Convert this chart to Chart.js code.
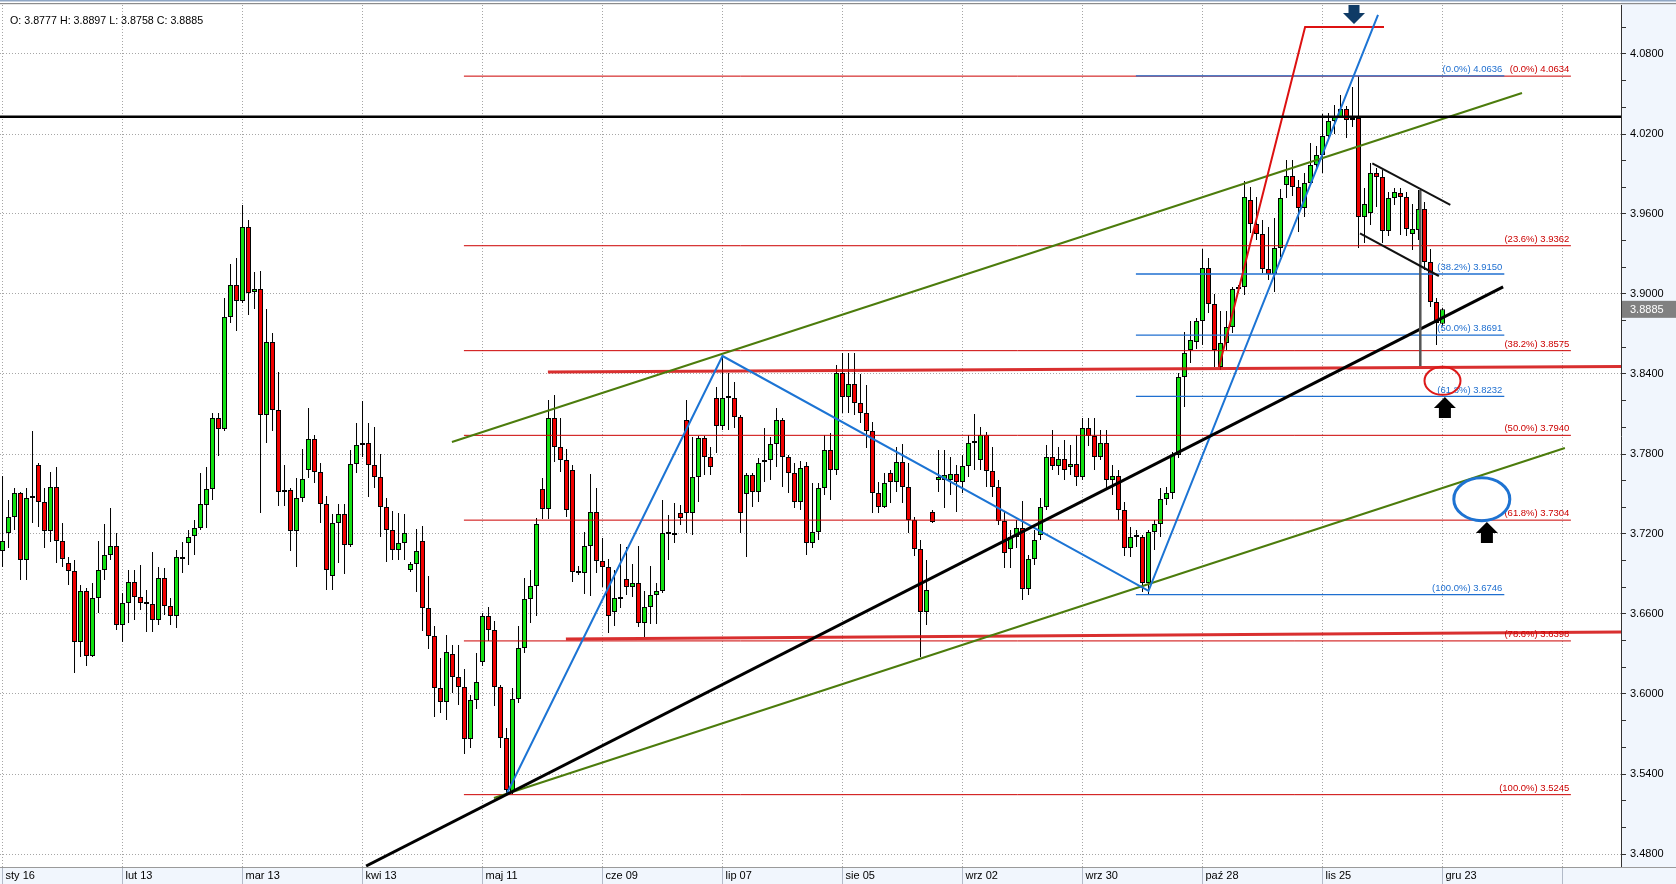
<!DOCTYPE html>
<html>
<head>
<meta charset="utf-8">
<title>USD/PLN D1</title>
<script src="https://cdn.jsdelivr.net/npm/chart.js"></script>
<style>
  html, body { margin: 0; padding: 0; background: #fff; }
  #wrap { position: relative; width: 1676px; height: 884px; }
  #chart { display: block; }
  #ohlc { position: absolute; left: 10px; top: 14px; font: 10.7px "Liberation Sans", Arial, sans-serif; color: #000; white-space: pre; }
</style>
</head>
<body>
<div id="wrap">
  <canvas id="chart" width="1676" height="884"></canvas>
  <div id="ohlc"></div>
</div>
<script>
// daily candles, index 0 = "sty 16"; every date label sits 20 bars apart
const dateLabels = ['sty 16', 'lut 13', 'mar 13', 'kwi 13', 'maj 11', 'cze 09', 'lip 07', 'sie 05', 'wrz 02', 'wrz 30', 'paź 28', 'lis 25', 'gru 23', ''];
const dateTickIdx = [0, 20, 40, 60, 80, 100, 120, 140, 160, 180, 200, 220, 240, 260];

const priceTicks = [3.48, 3.50, 3.52, 3.54, 3.56, 3.58, 3.60, 3.62, 3.64, 3.66, 3.68, 3.70, 3.72, 3.74, 3.76, 3.78,
  3.80, 3.82, 3.84, 3.86, 3.88, 3.90, 3.92, 3.94, 3.96, 3.98, 4.00, 4.02, 4.04, 4.06, 4.08, 4.10];
const priceLabelled = [3.48, 3.54, 3.60, 3.66, 3.72, 3.78, 3.84, 3.90, 3.96, 4.02, 4.08];

const opens = [
  3.7073,3.7208,3.7328,3.7508,3.7005,3.7470,3.7718,3.7440,3.7223,3.7553,
  3.7148,3.6983,3.6923,3.6390,3.6773,3.6285,3.6720,3.6930,3.7043,3.7110,
  3.6518,3.6683,3.6840,3.6728,3.6683,3.6675,3.6555,3.6870,3.6660,3.6585,
  3.7028,3.7133,3.7185,3.7245,3.7418,3.7538,3.8070,3.7988,3.8828,3.9068,
  3.8948,3.9503,3.9015,3.9038,3.8093,3.8640,3.8130,3.7515,3.7530,3.7223,
  3.7470,3.7680,3.7913,3.7665,3.7425,3.6885,3.7283,3.7350,3.7118,3.7725,
  3.7868,3.7883,3.7718,3.7628,3.7403,3.7230,3.7080,3.7133,3.6930,3.6975,
  3.7148,3.6645,3.6435,3.6045,3.5940,3.6300,3.6128,3.6053,3.5663,3.5955,
  3.6240,3.6585,3.6480,3.6053,3.5670,3.5265,3.5963,3.6345,3.6713,3.6810,
  3.7538,3.7388,3.8070,3.7853,3.7755,3.7680,3.6915,3.6908,3.7110,3.7365,
  3.6998,3.6953,3.6615,3.6713,3.6863,3.6803,3.6833,3.6533,3.6653,3.6743,
  3.6773,3.7208,3.7193,3.7358,3.8055,3.7358,3.7628,3.7920,3.7778,3.8220,
  3.8010,3.8220,3.8220,3.8078,3.7500,3.7643,3.7515,3.7740,3.7755,3.7875,
  3.8055,3.7778,3.7658,3.7440,3.7710,3.7133,3.7215,3.7545,3.7830,3.7680,
  3.8408,3.8228,3.8325,3.8183,3.8108,3.7973,3.7508,3.7403,3.7658,3.7590,
  3.7740,3.7553,3.7305,3.7088,3.6615,3.7365,3.7605,3.7605,3.7605,3.7650,
  3.7590,3.7710,3.7883,3.7755,3.7943,3.7673,3.7553,3.7298,3.7088,3.7178,
  3.7245,3.6788,3.7013,3.7193,3.7403,3.7778,3.7710,3.7763,3.7703,3.7725,
  3.7628,3.7995,3.7935,3.7778,3.7883,3.7605,3.7635,3.7380,3.7095,3.7178,
  3.7178,3.6833,3.7215,3.7275,3.7463,3.7508,3.7793,3.8378,3.8580,3.8640,
  3.8798,3.9195,3.8925,3.8453,3.8633,3.8753,3.9038,3.9053,3.9705,3.9525,
  3.9450,3.9188,3.9150,3.9345,3.9818,3.9885,3.9803,3.9645,3.9833,3.9968,
  4.0043,4.0185,4.0298,4.0328,4.0388,4.0305,4.0320,3.9578,3.9608,3.9908,
  3.9878,3.9473,3.9720,3.9758,3.9728,3.9450,3.9480,3.9638,3.9240,3.8940,
  3.8777
];
const highs = [
  3.7635,3.7455,3.7545,3.7515,3.7545,3.7973,3.7733,3.7545,3.7665,3.7703,
  3.7283,3.7028,3.7005,3.6818,3.6795,3.6833,3.7148,3.7275,3.7395,3.7208,
  3.6758,3.6930,3.6930,3.6968,3.6780,3.7065,3.6953,3.6945,3.6720,3.7080,
  3.7140,3.7230,3.7305,3.7658,3.7703,3.8108,3.8108,3.8970,3.9225,3.9270,
  3.9668,3.9555,3.9165,3.9173,3.8888,3.8708,3.8415,3.7718,3.7545,3.7620,
  3.7838,3.8145,3.7943,3.7733,3.7485,3.7350,3.7425,3.7425,3.7830,3.8033,
  3.8198,3.8033,3.8003,3.7800,3.7470,3.7373,3.7358,3.7350,3.6990,3.7238,
  3.7260,3.6885,3.6510,3.6270,3.6443,3.6368,3.6368,3.6188,3.5993,3.6308,
  3.6608,3.6653,3.6548,3.6068,3.5745,3.6045,3.6510,3.6870,3.6930,3.7320,
  3.7620,3.8205,3.8243,3.8070,3.7838,3.7718,3.6960,3.7215,3.7650,3.7545,
  3.7170,3.7013,3.6930,3.7125,3.7103,3.6975,3.7110,3.6773,3.6960,3.6833,
  3.7455,3.7343,3.7433,3.7418,3.8205,3.7928,3.7935,3.7935,3.7853,3.8303,
  3.8535,3.8408,3.8340,3.8093,3.7658,3.7658,3.7770,3.7995,3.7928,3.8145,
  3.8070,3.7793,3.7733,3.7748,3.7740,3.7583,3.7583,3.7943,3.7958,3.8468,
  3.8558,3.8558,3.8558,3.8400,3.8318,3.8040,3.7590,3.7658,3.7680,3.7853,
  3.7875,3.7733,3.7328,3.7155,3.7005,3.7380,3.7830,3.7830,3.7778,3.7718,
  3.7793,3.7943,3.8100,3.8003,3.7965,3.7853,3.7605,3.7373,3.7230,3.7305,
  3.7448,3.7043,3.7230,3.7470,3.7868,3.7980,3.7853,3.7905,3.7868,3.7943,
  3.8070,3.8070,3.8070,3.7980,3.7980,3.7718,3.7680,3.7440,3.7253,3.7230,
  3.7193,3.7230,3.7305,3.7545,3.7553,3.7815,3.8408,3.8715,3.8798,3.8820,
  3.9338,3.9270,3.9000,3.8873,3.8873,3.9053,3.9068,3.9848,3.9803,3.9728,
  3.9555,3.9503,3.9570,3.9788,4.0005,4.0005,3.9855,3.9908,4.0133,4.0110,
  4.0350,4.0358,4.0418,4.0493,4.0410,4.0553,4.0634,3.9795,3.9983,3.9945,
  3.9930,3.9765,3.9795,3.9795,3.9765,3.9675,3.9780,3.9690,3.9338,3.8970,
  3.8897
];
const lows = [
  3.6953,3.7095,3.7230,3.6855,3.6855,3.7283,3.7253,3.7095,3.7140,3.6983,
  3.6953,3.6818,3.6158,3.6278,3.6210,3.6278,3.6608,3.6855,3.7005,3.6480,
  3.6390,3.6533,3.6555,3.6630,3.6465,3.6465,3.6518,3.6593,3.6518,3.6495,
  3.6908,3.6968,3.7043,3.7230,3.7245,3.7455,3.7785,3.7973,3.8783,3.8723,
  3.8933,3.8843,3.8888,3.7358,3.7883,3.7973,3.7410,3.7410,3.7073,3.6953,
  3.7440,3.7620,3.7583,3.7283,3.6780,3.6780,3.6983,3.6900,3.7103,3.7658,
  3.7778,3.7478,3.7545,3.7178,3.6990,3.7005,3.7005,3.7005,3.6915,3.6765,
  3.6473,3.6338,3.5828,3.5858,3.5805,3.6008,3.5918,3.5550,3.5595,3.5888,
  3.6210,3.6398,3.5910,3.5595,3.5245,3.5250,3.5933,3.6308,3.6533,3.6585,
  3.7313,3.7313,3.7740,3.7665,3.7328,3.6840,3.6893,3.6750,3.6735,3.6908,
  3.6803,3.6458,3.6510,3.6645,3.6743,3.6728,3.6503,3.6428,3.6525,3.6525,
  3.6758,3.7005,3.7133,3.7268,3.7208,3.7193,3.7440,3.7643,3.7643,3.7808,
  3.7980,3.7980,3.7995,3.7208,3.7028,3.7403,3.7440,3.7590,3.7605,3.7703,
  3.7553,3.7508,3.7395,3.7380,3.7043,3.7095,3.7155,3.7493,3.7455,3.7643,
  3.8108,3.8108,3.8093,3.8033,3.7845,3.7358,3.7358,3.7395,3.7433,3.7515,
  3.7433,3.7208,3.7035,3.6278,3.6518,3.7283,3.7515,3.7395,3.7493,3.7365,
  3.7508,3.7628,3.7680,3.7680,3.7553,3.7478,3.7268,3.6945,3.6945,3.7095,
  3.6705,3.6743,3.6968,3.7155,3.7380,3.7680,3.7643,3.7605,3.7643,3.7560,
  3.7605,3.7860,3.7680,3.7755,3.7530,3.7493,3.7305,3.7035,3.7028,3.7103,
  3.6765,3.6746,3.7080,3.7178,3.7418,3.7463,3.7770,3.8153,3.8483,3.8588,
  3.8618,3.8858,3.8453,3.8430,3.8580,3.8708,3.9008,3.8993,3.9458,3.9405,
  3.9158,3.9105,3.9015,3.9278,3.9720,3.9735,3.9465,3.9578,3.9818,3.9930,
  3.9908,4.0170,4.0200,4.0320,4.0170,4.0253,3.9345,3.9383,3.9518,3.9653,
  3.9383,3.9435,3.9668,3.9443,3.9435,3.9330,3.9405,3.9180,3.8903,3.8618,
  3.8758
];
const closes = [
  3.7148,3.7328,3.7508,3.7005,3.7470,3.7485,3.7440,3.7223,3.7553,3.7148,
  3.7013,3.6923,3.6390,3.6773,3.6285,3.6720,3.6930,3.7043,3.7110,3.6518,
  3.6683,3.6840,3.6728,3.6683,3.6675,3.6555,3.6870,3.6660,3.6585,3.7028,
  3.7013,3.7178,3.7245,3.7425,3.7538,3.8070,3.7988,3.8828,3.9068,3.8948,
  3.9503,3.9008,3.9038,3.8093,3.8640,3.8130,3.7515,3.7530,3.7223,3.7470,
  3.7613,3.7913,3.7665,3.7425,3.6930,3.7283,3.7350,3.7118,3.7725,3.7868,
  3.7883,3.7718,3.7628,3.7403,3.7230,3.7080,3.7133,3.7208,3.6975,3.7073,
  3.6645,3.6435,3.6045,3.5940,3.6315,3.6128,3.6053,3.5663,3.5955,3.6090,
  3.6585,3.6480,3.6053,3.5670,3.5280,3.5963,3.6345,3.6713,3.6810,3.7275,
  3.7388,3.8070,3.7853,3.7755,3.7380,3.6915,3.6908,3.7110,3.7365,3.6998,
  3.6953,3.6585,3.6720,3.6713,3.6803,3.6833,3.6533,3.6653,3.6743,3.6773,
  3.7208,3.7200,3.7208,3.7320,3.7358,3.7628,3.7920,3.7778,3.7703,3.8010,
  3.8220,3.8220,3.8078,3.7358,3.7643,3.7515,3.7733,3.7755,3.7875,3.8055,
  3.7778,3.7658,3.7440,3.7695,3.7133,3.7215,3.7545,3.7830,3.7680,3.8408,
  3.8228,3.8325,3.8183,3.8108,3.7973,3.7508,3.7403,3.7583,3.7590,3.7740,
  3.7553,3.7305,3.7088,3.6615,3.6780,3.7290,3.7628,3.7643,3.7650,3.7590,
  3.7710,3.7883,3.7883,3.7943,3.7673,3.7553,3.7298,3.7058,3.7178,3.7245,
  3.6788,3.7013,3.7155,3.7403,3.7778,3.7710,3.7763,3.7680,3.7725,3.7628,
  3.7995,3.7935,3.7778,3.7883,3.7605,3.7635,3.7380,3.7095,3.7178,3.7178,
  3.6833,3.7215,3.7275,3.7463,3.7508,3.7793,3.8378,3.8558,3.8655,3.8798,
  3.9195,3.8925,3.8580,3.8633,3.8753,3.9038,3.9053,3.9728,3.9525,3.9450,
  3.9188,3.9150,3.9345,3.9720,3.9885,3.9803,3.9645,3.9833,3.9968,4.0043,
  4.0185,4.0298,4.0328,4.0388,4.0305,4.0320,3.9578,3.9675,3.9908,3.9878,
  3.9473,3.9720,3.9765,3.9728,3.9488,3.9488,3.9638,3.9240,3.8940,3.8783,
  3.8885
];

// drawings on the chart, as [bar index, price]
const resistanceLine = [[-0.42, 4.0330], [269.75, 4.0330]];
const supportTrend = [[60.6, 3.4710], [250.1, 3.9053]];
const channelUpper = [[74.9, 3.7890], [253.25, 4.0508]];
const channelLower = [[81.9, 3.5220], [260.4, 3.7845]];
const waveLine = [[84.1, 3.5258], [120.0, 3.8535], [191.0, 3.6773], [229.25, 4.1093]];
const projectionLine = [[202.75, 3.8453], [217.1, 4.1003], [230.25, 4.1003]];
const supportUpper = [[90.9, 3.8415], [269.75, 3.8456]];
const supportLower = [[93.9, 3.6413], [269.75, 3.6465]];
const flagTop = [[228.3, 3.9980], [241.3, 3.9668]];
const flagBottom = [[226.25, 3.9455], [239.4, 3.9135]];
const flagPole = [[236.3, 3.9780], [236.3, 3.8460]];

const fibRedRange = [76.9, 261.4];
const fibRedPct = ['0.0', '23.6', '38.2', '50.0', '61.8', '78.6', '100.0'];
const fibRedLevels = [4.0634, 3.9362, 3.8575, 3.7940, 3.7304, 3.6398, 3.5245];
const fibBlueRange = [188.9, 250.3];
const fibBluePct = ['0.0', '38.2', '50.0', '61.8', '100.0'];
const fibBlueLevels = [4.0636, 3.9150, 3.8691, 3.8232, 3.6746];

const redCircle = [240.0, 3.8349];
const blueCircle = [246.55, 3.7461];
const upArrows = [[240.4, 3.8228], [247.4, 3.7290]];
const downArrows = [[225.25, 4.1025]];

const FONT = '"Liberation Sans", Arial, sans-serif';
Chart.defaults.font.family = FONT;

const last = closes.length - 1;
document.getElementById('ohlc').textContent =
  'O: ' + opens[last].toFixed(4) + ' H: ' + highs[last].toFixed(4) +
  ' L: ' + lows[last].toFixed(4) + ' C: ' + closes[last].toFixed(4);

const isLabelled = v => priceLabelled.some(p => Math.abs(p - v) < 1e-6);

function lineSet(points, color, width, order) {
  return {
    type: 'line',
    data: points.map(p => ({ x: p[0], y: p[1] })),
    borderColor: color,
    borderWidth: width,
    pointRadius: 0,
    fill: false,
    tension: 0,
    order: order
  };
}

const idx = opens.map((o, i) => i);
const datasets = [
  {
    label: 'knoty',
    data: idx.map(i => ({ x: i, y: [lows[i], highs[i]] })),
    backgroundColor: '#000',
    borderWidth: 0,
    barThickness: 1,
    grouped: false,
    inflateAmount: 0,
    order: 30
  },
  {
    label: 'świece',
    data: idx.map(i => ({ x: i, y: [opens[i], closes[i]] })),
    backgroundColor: idx.map(i => closes[i] >= opens[i] ? '#12e012' : '#f00000'),
    borderColor: '#000',
    borderWidth: 1,
    borderSkipped: false,
    barThickness: 5,
    minBarLength: 2,
    grouped: false,
    inflateAmount: 0,
    order: 20
  }
];
fibRedLevels.forEach(v => datasets.push(lineSet([[fibRedRange[0], v], [fibRedRange[1], v]], '#cc0000', 1, 11)));
fibBlueLevels.forEach(v => datasets.push(lineSet([[fibBlueRange[0], v], [fibBlueRange[1], v]], '#1f6fd0', 1.3, 10)));
datasets.push(lineSet(supportUpper, 'rgba(210,10,10,0.85)', 3, 8));
datasets.push(lineSet(supportLower, 'rgba(210,10,10,0.85)', 3, 8));
datasets.push(lineSet(channelUpper, '#4c7c0c', 2, 6));
datasets.push(lineSet(channelLower, '#4c7c0c', 2, 6));
datasets.push(lineSet(waveLine, '#1c74d4', 2, 5));
datasets.push(lineSet(projectionLine, '#dd1111', 2, 5));
datasets.push(lineSet(supportTrend, '#000', 3, 4));
datasets.push(lineSet(resistanceLine, '#000', 2.5, 4));
datasets.push(lineSet(flagTop, '#111', 2, 3));
datasets.push(lineSet(flagBottom, '#111', 2, 3));
datasets.push(lineSet(flagPole, '#555', 2.5, 3));

function drawUpArrow(ctx, cx, tip, color) {
  ctx.fillStyle = color;
  ctx.beginPath();
  ctx.moveTo(cx, tip);
  ctx.lineTo(cx + 11, tip + 11);
  ctx.lineTo(cx + 6, tip + 11);
  ctx.lineTo(cx + 6, tip + 21);
  ctx.lineTo(cx - 6, tip + 21);
  ctx.lineTo(cx - 6, tip + 11);
  ctx.lineTo(cx - 11, tip + 11);
  ctx.closePath();
  ctx.fill();
}

function drawDownArrow(ctx, cx, tip, color) {
  ctx.fillStyle = color;
  ctx.beginPath();
  ctx.moveTo(cx, tip);
  ctx.lineTo(cx + 11, tip - 11);
  ctx.lineTo(cx + 5.5, tip - 11);
  ctx.lineTo(cx + 5.5, tip - 21);
  ctx.lineTo(cx - 5.5, tip - 21);
  ctx.lineTo(cx - 5.5, tip - 11);
  ctx.lineTo(cx - 11, tip - 11);
  ctx.closePath();
  ctx.fill();
}

function fibLabels(ctx, xs, ys, levels, pcts, range, color, gap) {
  ctx.fillStyle = color;
  ctx.font = '9.5px ' + FONT;
  ctx.textAlign = 'right';
  ctx.textBaseline = 'middle';
  const xr = xs.getPixelForValue(range[1]) - gap;
  levels.forEach((v, k) => {
    ctx.fillText('(' + pcts[k] + '%) ' + v.toFixed(4), xr, ys.getPixelForValue(v) - 6.5);
  });
}

const decor = {
  id: 'decor',
  beforeDraw(chart) {
    const { ctx, chartArea: a, width, height } = chart;
    ctx.save();
    ctx.fillStyle = '#fff';
    ctx.fillRect(0, 0, width, height);
    ctx.fillStyle = '#f1f6fd';
    ctx.fillRect(a.right, 0, width - a.right, height);
    ctx.fillRect(0, a.bottom, width, height - a.bottom);
    ctx.restore();
  },
  afterDatasetsDraw(chart) {
    const { ctx, chartArea: a, scales: { x, y } } = chart;
    ctx.save();
    ctx.beginPath();
    ctx.rect(a.left, a.top, a.right - a.left, a.bottom - a.top);
    ctx.clip();

    fibLabels(ctx, x, y, fibRedLevels, fibRedPct, fibRedRange, '#cc0000', 1.5);
    fibLabels(ctx, x, y, fibBlueLevels, fibBluePct, fibBlueRange, '#1f6fd0', 2);

    ctx.lineWidth = 2;
    ctx.strokeStyle = '#dd1a1a';
    ctx.beginPath();
    ctx.ellipse(x.getPixelForValue(redCircle[0]), y.getPixelForValue(redCircle[1]), 18, 14, 0, 0, Math.PI * 2);
    ctx.stroke();
    ctx.lineWidth = 3;
    ctx.strokeStyle = '#1e73d2';
    ctx.beginPath();
    ctx.ellipse(x.getPixelForValue(blueCircle[0]), y.getPixelForValue(blueCircle[1]), 28, 21.5, 0, 0, Math.PI * 2);
    ctx.stroke();

    upArrows.forEach(p => drawUpArrow(ctx, x.getPixelForValue(p[0]), y.getPixelForValue(p[1]), '#000'));
    downArrows.forEach(p => drawDownArrow(ctx, x.getPixelForValue(p[0]), y.getPixelForValue(p[1]), '#0f3b66'));
    ctx.restore();
  },
  afterDraw(chart) {
    const { ctx, chartArea: a, width, scales: { y } } = chart;
    ctx.save();
    // window frame at the top
    ctx.fillStyle = '#8fa6c4';
    ctx.fillRect(0, 0, width, 1.5);
    ctx.fillStyle = '#8c8c8c';
    ctx.fillRect(0, 3, width, 1.2);
    // date strip border
    ctx.strokeStyle = '#9a9a9a';
    ctx.lineWidth = 1;
    ctx.beginPath();
    ctx.moveTo(0, a.bottom + 0.5);
    ctx.lineTo(width, a.bottom + 0.5);
    ctx.stroke();
    // last price marker
    const py = y.getPixelForValue(closes[last]);
    ctx.fillStyle = '#808080';
    ctx.fillRect(a.right + 1, py - 8.5, width - a.right - 1, 17);
    ctx.fillStyle = '#fff';
    ctx.font = '11px ' + FONT;
    ctx.textAlign = 'left';
    ctx.textBaseline = 'middle';
    ctx.fillText(closes[last].toFixed(4), a.right + 9, py + 0.5);
    ctx.restore();
  }
};

new Chart(document.getElementById('chart'), {
  type: 'bar',
  data: { datasets: datasets },
  options: {
    responsive: false,
    devicePixelRatio: 1,
    animation: false,
    events: [],
    layout: { padding: { top: 5, left: 0, right: 0, bottom: 0 } },
    plugins: { legend: { display: false }, tooltip: { enabled: false } },
    scales: {
      x: {
        type: 'linear',
        min: -0.42,
        max: 269.75,
        offset: false,
        afterBuildTicks: s => { s.ticks = dateTickIdx.map(v => ({ value: v })); },
        afterFit: s => { s.height = 17; s.paddingLeft = 0; s.paddingRight = 0; },
        grid: {
          offset: false,
          color: '#a6a6a6',
          lineWidth: 1,
          drawTicks: true,
          tickLength: 17,
          tickColor: '#b2bac8',
          tickBorderDash: []
        },
        border: { display: false, dash: [1, 2] },
        ticks: {
          align: 'start',
          labelOffset: 3,
          padding: -15,
          maxRotation: 0,
          autoSkip: false,
          color: '#000',
          font: { size: 11 },
          callback: (v, i) => dateLabels[i] || ''
        }
      },
      y: {
        type: 'linear',
        position: 'right',
        min: 3.47025,
        max: 4.11675,
        beginAtZero: false,
        afterBuildTicks: s => { s.ticks = priceTicks.map(v => ({ value: v })); },
        afterFit: s => { s.width = 55; s.paddingTop = 0; s.paddingBottom = 0; },
        grid: {
          color: c => (c.tick && isLabelled(c.tick.value)) ? '#a6a6a6' : 'rgba(0,0,0,0)',
          tickColor: '#333',
          tickLength: 5,
          tickBorderDash: []
        },
        border: { display: true, color: '#333', width: 1, dash: [1, 2] },
        ticks: {
          padding: 4,
          autoSkip: false,
          color: '#000',
          font: { size: 11 },
          callback: v => isLabelled(v) ? v.toFixed(4) : ''
        }
      }
    }
  },
  plugins: [decor]
});
</script>
</body>
</html>
